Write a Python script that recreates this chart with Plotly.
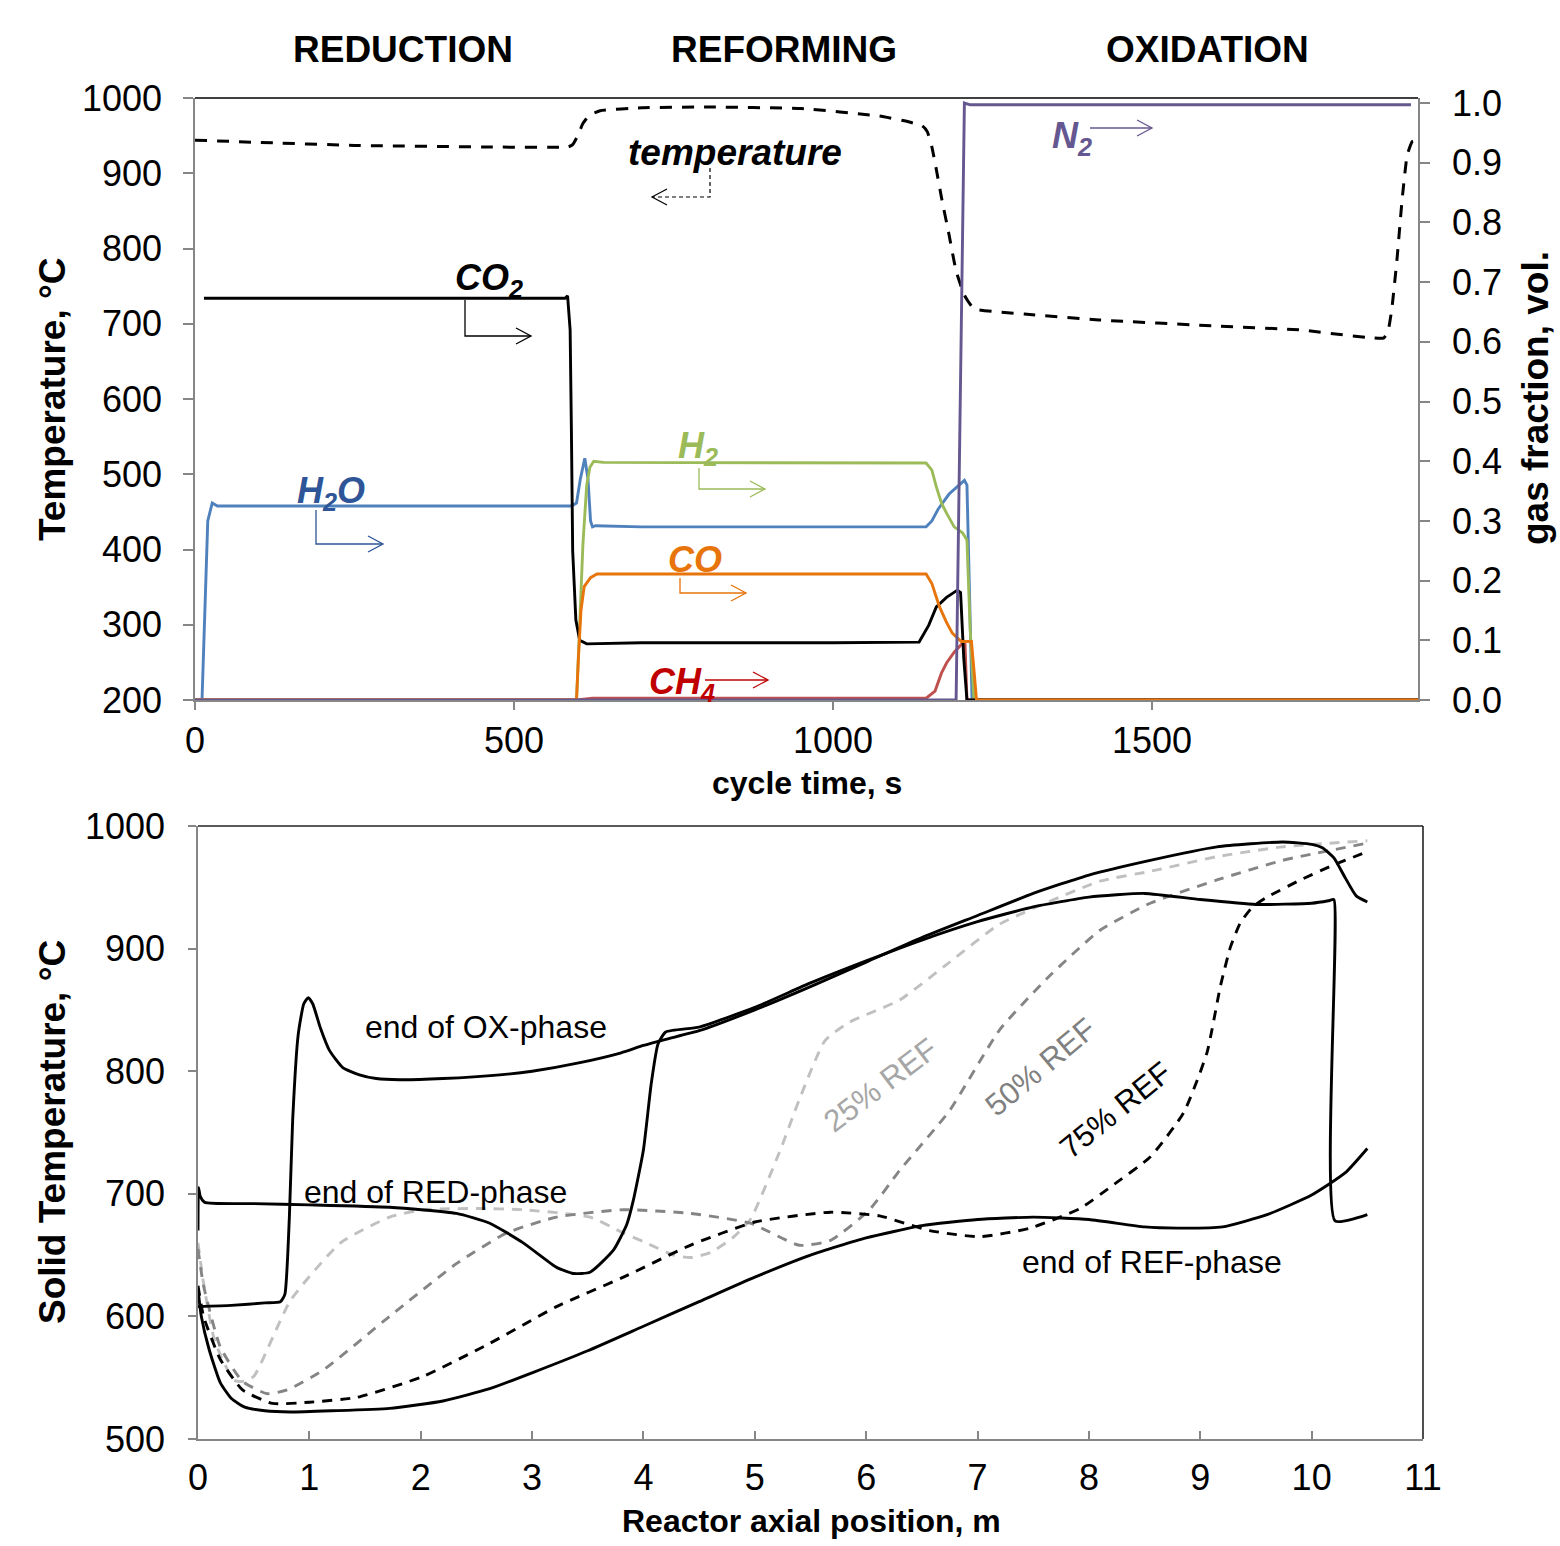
import math
import plotly.graph_objects as go

W, H = 1560, 1546
FONT = "Liberation Sans, Arial, sans-serif"

# ---------------- top chart: cycle time profiles ----------------
temp_t = [0, 100, 250, 450, 585, 592, 600, 608, 618, 635, 700, 800, 950, 1073, 1120, 1140, 1148, 1155,
          1162, 1170, 1182, 1193, 1206, 1221, 1300, 1417, 1600, 1730, 1863, 1870, 1876, 1884, 1892, 1900,
          1908, 1917]
temp_T = [944, 941, 937, 935, 935, 938, 950, 966, 977, 983, 987, 988, 986, 976, 968, 963, 955, 935,
          905, 868, 818, 770, 738, 720, 713, 705, 697, 692, 681, 690, 720, 785, 864, 924,
          942, 944]

co2_t = [14, 300, 580, 584, 588, 590, 592, 597, 603, 614, 700, 1000, 1135, 1150, 1162, 1178,
         1195, 1200, 1205, 1210, 1917]
co2_f = [0.673, 0.673, 0.673, 0.677, 0.62, 0.45, 0.25, 0.134, 0.10, 0.094, 0.096, 0.096, 0.097,
         0.125, 0.156, 0.172, 0.184, 0.18, 0.07, 0.0, 0.0]

h2o_t = [0, 11, 14, 20, 27, 35, 300, 590, 598, 604, 611, 616, 620, 623, 628, 700, 1000, 1146, 1155,
         1165, 1182, 1198, 1206, 1210, 1214, 1218, 1917]
h2o_f = [0, 0, 0.1, 0.3, 0.33, 0.325, 0.325, 0.325, 0.33, 0.37, 0.405, 0.37, 0.30, 0.29, 0.292, 0.29,
         0.29, 0.29, 0.30, 0.32, 0.345, 0.36, 0.368, 0.36, 0.2, 0.0, 0.0]

h2_t = [0, 598, 602, 608, 614, 619, 625, 640, 1146, 1155, 1162, 1170, 1178, 1190, 1203, 1210, 1215,
        1221, 1917]
h2_f = [0, 0, 0.1, 0.26, 0.36, 0.39, 0.40, 0.398, 0.397, 0.385, 0.357, 0.33, 0.313, 0.29, 0.28, 0.268,
        0.12, 0.0, 0.0]

co_t = [0, 598, 601, 605, 610, 620, 630, 1146, 1155, 1167, 1178, 1187, 1201, 1217, 1221, 1225, 1917]
co_f = [0, 0, 0.07, 0.15, 0.19, 0.205, 0.211, 0.211, 0.195, 0.156, 0.13, 0.112, 0.098, 0.098, 0.05,
        0.0, 0.0]

ch4_t = [0, 598, 623, 1146, 1160, 1170, 1178, 1190, 1203, 1207, 1210, 1917]
ch4_f = [0, 0, 0.003, 0.003, 0.015, 0.045, 0.062, 0.08, 0.095, 0.093, 0.0, 0.0]

n2_t = [0, 1193, 1206, 1215, 1906]
n2_f = [0, 0, 1.0, 0.997, 0.997]

phase_labels = ["REDUCTION", "REFORMING", "OXIDATION"]

# ---------------- bottom chart: axial solid temperature ----------------
ox_m = [0, 0.3, 0.6, 0.74, 0.78, 0.82, 0.85, 0.9, 0.95, 0.99, 1.03, 1.1, 1.18, 1.3, 1.45, 1.6, 1.81,
        2.2, 2.71, 3.0, 3.43, 3.8, 4.0, 4.2, 4.5, 5.0, 5.5, 6.0, 6.5, 7.0, 7.5, 8.0, 8.55, 9.15, 9.74,
        10.0, 10.1, 10.2, 10.3, 10.4, 10.5]
ox_T = [608, 609, 611, 612, 618, 680, 760, 830, 855, 860, 855, 835, 817, 803, 797, 794, 793,
        794, 797, 800, 807, 815, 821, 826, 833, 850, 869, 889, 909, 927, 945, 960, 972, 983, 987,
        985, 982, 974, 958, 943, 938]

red_m = [0, 0.005, 0.02, 0.06, 0.5, 1.0, 1.72, 2.32, 2.62, 2.92, 3.22, 3.37, 3.52, 3.73, 3.85, 3.91,
         4.0, 4.07, 4.13, 4.2, 4.5, 5.0, 5.5, 6.0, 6.5, 7.0, 7.5, 8.0, 8.5, 9.0, 9.5, 10.0, 10.15, 10.2,
         10.21, 10.5]
red_T = [670, 705, 698, 693, 692, 691, 689, 684, 676, 660, 640, 635, 636, 654, 675, 695,
         736, 790, 822, 832, 836, 852, 872, 890, 907, 922, 934, 942, 945, 940, 936, 937, 939, 940,
         678, 683]

ref_m = [0, 0.03, 0.1, 0.2, 0.3, 0.42, 0.6, 0.83, 1.2, 1.72, 2.2, 2.62, 3.0, 3.5, 4.0, 4.5, 5.0,
         5.5, 6.0, 6.5, 7.0, 7.5, 8.0, 8.5, 8.8, 9.2, 9.6, 10.0, 10.3, 10.5]
ref_T = [622, 600, 573, 546, 533, 526, 523, 522, 523, 525, 531, 541, 554, 572, 592, 612, 632,
         650, 664, 674, 679, 681, 679, 673, 672, 673, 683, 699, 717, 737]

r25_m = [0, 0.05, 0.15, 0.32, 0.4, 0.5, 0.83, 1.28, 1.72, 2.02, 2.5, 2.92, 3.52, 3.82, 4.0, 4.27,
         4.42, 4.6, 4.8, 4.96, 5.23, 5.4, 5.63, 5.85, 6.3, 6.75, 7.2, 8.1, 8.55, 9.15, 9.74, 10.5]
r25_T = [660, 627, 580, 548, 547, 551, 613, 660, 681, 687, 688, 687, 681, 668, 661, 650,
         648, 652, 664, 679, 736, 777, 825, 840, 858, 889, 920, 955, 963, 975, 983, 988]

r50_m = [0, 0.05, 0.2, 0.4, 0.62, 0.8, 1.12, 1.72, 2.32, 2.77, 3.22, 3.82, 4.42, 4.96, 5.4, 5.68,
         6.03, 6.3, 6.75, 7.2, 7.65, 8.1, 8.55, 9.15, 9.74, 10.5]
r50_T = [655, 625, 575, 547, 537, 540, 556, 600, 643, 668, 681, 687, 684, 676, 658, 662,
         687, 719, 768, 834, 878, 915, 937, 956, 972, 986]

r75_m = [0, 0.05, 0.2, 0.4, 0.67, 1.0, 1.43, 2.02, 2.62, 3.22, 3.82, 4.42, 5.0, 5.68, 6.12, 6.57,
         7.02, 7.47, 7.92, 8.2, 8.55, 8.85, 9.06, 9.18, 9.27, 9.36, 9.47, 9.6, 9.9, 10.19, 10.5]
r75_T = [625, 600, 565, 540, 529, 530, 534, 551, 578, 608, 632, 658, 677, 685, 682, 670,
         665, 672, 688, 706, 730, 766, 815, 869, 901, 921, 934, 942, 956, 968, 979]


def PX(x):
    return x / W


def PY(y):
    return 1 - y / H


fig = go.Figure()

# top chart traces
fig.add_trace(go.Scatter(x=temp_t, y=temp_T, mode="lines", xaxis="x", yaxis="y",
                         line=dict(color="black", width=3, dash="12px,10px", shape="spline", smoothing=0.4)))
gas_series = [
    (h2o_t, h2o_f, "#4F81BD"),
    (h2_t, h2_f, "#9BBB59"),
    (ch4_t, ch4_f, "#C0504D"),
    (co2_t, co2_f, "black"),
    (co_t, co_f, "#E8740C"),
    (n2_t, n2_f, "#65578F"),
]
for t, f, c in gas_series:
    fig.add_trace(go.Scatter(x=t, y=f, mode="lines", xaxis="x", yaxis="y2",
                             line=dict(color=c, width=2.9)))

# bottom chart traces
bottom_series = [
    (r25_m, r25_T, "#C0C0C0", "10px,8px"),
    (r50_m, r50_T, "#858585", "10px,8px"),
    (r75_m, r75_T, "black", "10px,8px"),
    (ref_m, ref_T, "black", "solid"),
    (red_m, red_T, "black", "solid"),
    (ox_m, ox_T, "black", "solid"),
]
for m, T, c, d in bottom_series:
    fig.add_trace(go.Scatter(x=m, y=T, mode="lines", xaxis="x2", yaxis="y3",
                             line=dict(color=c, width=2.9, dash=d, shape="spline", smoothing=0.5)))

AX = "#868686"
tickfont = dict(family=FONT, size=36, color="black")
common = dict(showgrid=False, zeroline=False, showline=True, linecolor=AX, linewidth=1.5,
              tickcolor=AX, tickwidth=1.5, tickfont=tickfont, automargin=False)

fig.update_layout(
    width=W, height=H, margin=dict(l=0, r=0, t=0, b=0, pad=0, autoexpand=False),
    paper_bgcolor="white", plot_bgcolor="white", showlegend=False,
    font=dict(family=FONT, color="black"),
    xaxis=dict(domain=[195 / W, 1418 / W], range=[0, 1917], anchor="y", tickvals=[0, 500, 1000, 1500],
               ticks="outside", ticklen=8, ticklabelstandoff=0, **common),
    yaxis=dict(domain=[PY(700), PY(98)], range=[200, 1000], anchor="x", dtick=100, tick0=0,
               ticks="outside", ticklen=10, ticklabelstandoff=14, **common),
    yaxis2=dict(overlaying="y", side="right", anchor="x", range=[0, 1.0084], dtick=0.1, tick0=0,
                tickformat=".1f", ticks="outside", ticklen=10, ticklabelstandoff=15, **common),
    xaxis2=dict(domain=[198 / W, 1423 / W], range=[0, 11], anchor="y3", dtick=1, tick0=0,
                ticks="inside", ticklen=8, ticklabelstandoff=6, **common),
    yaxis3=dict(domain=[PY(1439), PY(826)], range=[500, 1000], anchor="x2", dtick=100, tick0=0,
                ticks="outside", ticklen=8, ticklabelstandoff=16, **common),
)

shapes = []
# frame edges
shapes.append(dict(type="line", xref="x domain", yref="y domain", x0=0, x1=1, y0=1, y1=1,
                   line=dict(color="black", width=1.6)))
shapes.append(dict(type="line", xref="x2 domain", yref="y3 domain", x0=0, x1=1, y0=1, y1=1,
                   line=dict(color="#222", width=1.6)))
shapes.append(dict(type="line", xref="x2 domain", yref="y3 domain", x0=1, x1=1, y0=0, y1=1,
                   line=dict(color="#222", width=1.6)))


def arrow(points, color, dash="solid", width=1.3):
    path = "M " + " L ".join(f"{PX(x):.5f},{PY(y):.5f}" for x, y in points)
    shapes.append(dict(type="path", xref="paper", yref="paper", path=path,
                       line=dict(color=color, width=width, dash=dash)))
    (x1, y1), (x2, y2) = points[-2], points[-1]
    ang = math.atan2(y2 - y1, x2 - x1)
    L, a = 17, math.radians(28)
    p1 = (x2 - L * math.cos(ang - a), y2 - L * math.sin(ang - a))
    p2 = (x2 - L * math.cos(ang + a), y2 - L * math.sin(ang + a))
    head = f"M {PX(p1[0]):.5f},{PY(p1[1]):.5f} L {PX(x2):.5f},{PY(y2):.5f} L {PX(p2[0]):.5f},{PY(p2[1]):.5f}"
    shapes.append(dict(type="path", xref="paper", yref="paper", path=head,
                       line=dict(color=color, width=width)))


arrow([(465, 300), (465, 336), (531, 336)], "black")
arrow([(316, 510), (316, 544), (383, 544)], "#2E5597")
arrow([(699, 468), (699, 489), (765, 489)], "#9BBB59")
arrow([(680, 578), (680, 593), (746, 593)], "#E8740C")
arrow([(705, 680), (768, 680)], "#C00000")
arrow([(1090, 128), (1152, 128)], "#65578F")
arrow([(710, 168), (710, 197), (652, 197)], "black", dash="4px,3px", width=1.2)

annotations = []


def label(x, y, text, size, color="black", angle=0):
    annotations.append(dict(xref="paper", yref="paper", x=PX(x), y=PY(y), text=text, showarrow=False,
                            xanchor="center", yanchor="middle", textangle=angle,
                            font=dict(family=FONT, size=size, color=color)))


for xc, txt in zip([403, 784, 1207], phase_labels):
    label(xc, 50, f"<b>{txt}</b>", 37)
label(735, 153, "<b><i>temperature</i></b>", 37)
label(489, 280, "<b><i>CO<sub>2</sub></i></b>", 36)
label(331, 493, "<b><i>H<sub>2</sub>O</i></b>", 36, "#2E5597")
label(698, 448, "<b><i>H<sub>2</sub></i></b>", 36, "#9BBB59")
label(695, 560, "<b><i>CO</i></b>", 36, "#E8740C")
label(682, 684, "<b><i>CH<sub>4</sub></i></b>", 36, "#C00000")
label(1072, 138, "<b><i>N<sub>2</sub></i></b>", 36, "#65578F")

label(807, 783, "<b>cycle time, s</b>", 32)
label(52, 400, "<b>Temperature, °C</b>", 37, angle=-90)
label(1535, 398, "<b>gas fraction, vol.</b>", 37, angle=-90)
label(811, 1521, "<b>Reactor axial position, m</b>", 32)
label(52, 1132, "<b>Solid Temperature, °C</b>", 37, angle=-90)

label(486, 1027, "end of OX-phase", 32)
label(435, 1192, "end of RED-phase", 32)
label(1152, 1262, "end of REF-phase", 32)
label(880, 1085, "25% REF", 31, "#A6A6A6", angle=-37)
label(1040, 1067, "50% REF", 31, "#808080", angle=-40)
label(1115, 1110, "75% REF", 31, "black", angle=-39)

fig.update_layout(shapes=shapes, annotations=annotations)

fig.write_html("out.html", config={"displayModeBar": False},
               post_script="document.body.style.margin='0px';")
